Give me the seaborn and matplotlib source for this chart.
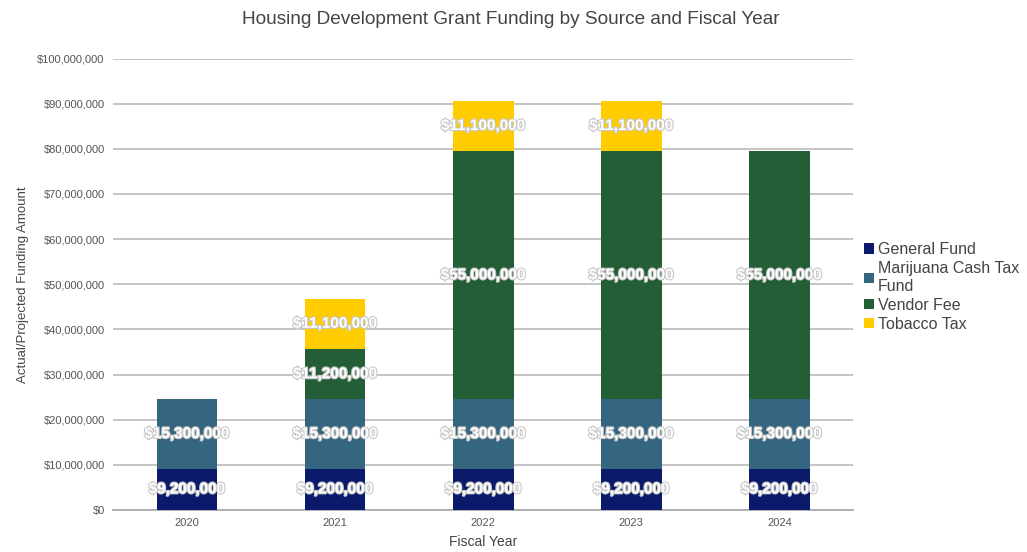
import matplotlib
matplotlib.use("Agg")
import matplotlib.pyplot as plt
import matplotlib.patheffects as pe
from matplotlib.patches import Patch
import matplotlib.ticker as mticker
import seaborn as sns
import pandas as pd
import numpy as np

years = ["2020", "2021", "2022", "2023", "2024"]
general_fund = [9_200_000, 9_200_000, 9_200_000, 9_200_000, 9_200_000]
marijuana = [15_300_000, 15_300_000, 15_300_000, 15_300_000, 15_300_000]
vendor_fee = [0, 11_200_000, 55_000_000, 55_000_000, 55_000_000]
tobacco = [0, 11_100_000, 11_100_000, 11_100_000, 0]

series_names = ["General Fund", "Marijuana Cash Tax\nFund", "Vendor Fee", "Tobacco Tax"]
series_vals = [general_fund, marijuana, vendor_fee, tobacco]
colors = ["#0b1a6b", "#35657f", "#245e36", "#ffcc00"]

sns.set_theme(style="white")
plt.rcParams["font.family"] = ["Liberation Sans", "DejaVu Sans"]

fig = plt.figure(figsize=(10.27, 5.52), dpi=100)
ax = fig.add_axes([0.110, 0.076, 0.721, 0.818])

cum = np.cumsum(np.array(series_vals), axis=0)
for i in range(len(series_vals) - 1, -1, -1):
    df = pd.DataFrame({"year": years, "value": cum[i]})
    sns.barplot(data=df, x="year", y="value", color=colors[i], saturation=1,
                width=0.41, ax=ax, zorder=3, edgecolor="none", linewidth=0)

# labels
stroke = [pe.withStroke(linewidth=1.6, foreground="#c8c8c8")]
for i, vals in enumerate(series_vals):
    for j, v in enumerate(vals):
        if v <= 0:
            continue
        bottom = cum[i][j] - v
        ax.text(j, bottom + v / 2, f"${v:,.0f}", ha="center", va="center",
                color="white", fontsize=11, fontweight="bold", zorder=5,
                path_effects=stroke)

ax.set_ylim(0, 100_000_000)
ax.set_xlim(-0.5, 4.5)
ax.yaxis.set_major_locator(mticker.MultipleLocator(10_000_000))
ax.yaxis.set_major_formatter(mticker.FuncFormatter(lambda v, p: f"${v:,.0f}"))
ax.grid(axis="y", color="#c4c4c4", linewidth=1.4, zorder=0)
ax.set_axisbelow(True)
for s in ["left", "right", "top"]:
    ax.spines[s].set_visible(False)
ax.spines["bottom"].set_color("#b0b0b0")
ax.spines["bottom"].set_linewidth(1.4)
ax.tick_params(axis="both", labelsize=8, colors="#555555", length=0, pad=6)

ax.set_xlabel("Fiscal Year", fontsize=10, color="#444444", labelpad=5)
ax.set_ylabel("Actual/Projected Funding Amount", fontsize=9.5, color="#444444", labelpad=6)
fig.suptitle("Housing Development Grant Funding by Source and Fiscal Year",
             x=0.497, y=0.98, fontsize=13.7, color="#444444")

handles = [Patch(facecolor=c, edgecolor="none") for c in colors]
leg = ax.legend(handles, series_names, loc="center left", bbox_to_anchor=(0.995, 0.494),
                frameon=False, fontsize=11.5, handlelength=0.6, handleheight=0.6,
                handletextpad=0.25, labelspacing=0.26, labelcolor="#444444")

fig.savefig("out.png", dpi=100)
